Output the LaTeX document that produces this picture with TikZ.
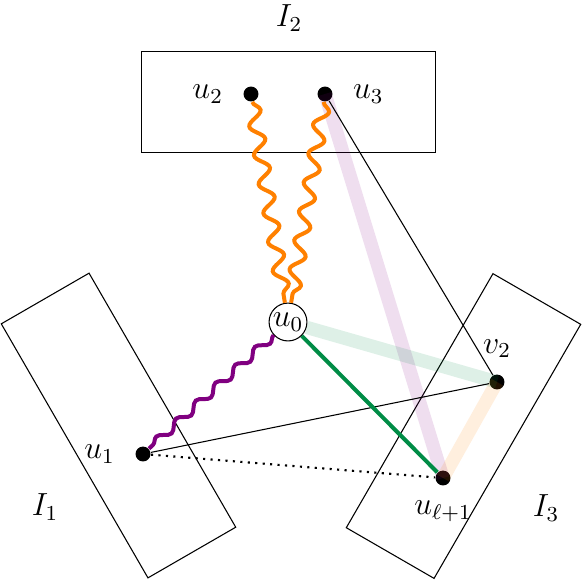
\documentclass[tikz,border=0pt]{standalone}
\usepackage{amsmath,amssymb}
\usepackage{tikz}
\usetikzlibrary{positioning, decorations.pathmorphing}
\definecolor{pathgreen}{RGB}{0,140,70}
\definecolor{pathpurple}{RGB}{128,0,128}
\definecolor{pathorange}{RGB}{255,128,0}
\tikzset{vtx/.style={circle, fill, inner sep=0pt, minimum size=5.6pt},
part/.style={draw, minimum width=110pt, minimum height=38pt},
wave/.style={decorate, decoration={snake, amplitude=2.6pt, segment length=11pt}, line width=1.5pt},
band/.style={line width=5pt, opacity=0.13}
}

\begin{document}
\begin{tikzpicture}[x=0.375pt, y=-0.375pt, every node/.style={font=\large}]
\useasboundingbox (0,0) rectangle (582,580);
% the three parts
\node[part] (P2) at (288.5,102) {};
\node[part, rotate=-60] (P1) at (118.5,425.5) {};
\node[part, rotate=60] (P3) at (463.5,426) {};
\node (I2) at (289,18) {$I_2$};
\node (I1) at (45,507) {$I_1$};
\node (I3) at (546,508) {$I_3$};
% vertices
\node[vtx] (u2) at (251,94) {};
\node[vtx] (u3) at (325,94) {};
\node[draw, circle, inner sep=0.3pt] (u0) at (288,322) {$u_0$};
\node[vtx] (u1) at (143,454) {};
\node[vtx] (v2) at (497,382) {};
\node[vtx] (ul) at (443,478) {};
\node[left=4pt of u2] (lu2) {$u_2$};
\node[right=4pt of u3] (lu3) {$u_3$};
\node[left=4pt of u1] (lu1) {$u_1$};
\node[above=2.5pt of v2] (lv2) {$v_2$};
\node[below=2pt of ul] (lul) {$u_{\ell+1}$};
% pale bands
\draw[band, pathpurple] (u3.center) -- (ul.center);
\draw[band, pathgreen] (u0) -- (v2.center);
\draw[band, pathorange] (v2.center) -- (ul.center);
% edges
\draw (u3) -- (v2);
\draw (u1) -- (v2);
\draw[dotted, thick] (u1) -- (ul);
\draw[pathgreen, line width=1.5pt] (u0) -- (ul);
\draw[wave, pathorange] (u2) -- (u0);
\draw[wave, pathorange] (u3) -- (u0);
\draw[wave, pathpurple, decoration={amplitude=1.5pt, segment length=10pt}] (u0) -- (u1);
\end{tikzpicture}
\end{document}
